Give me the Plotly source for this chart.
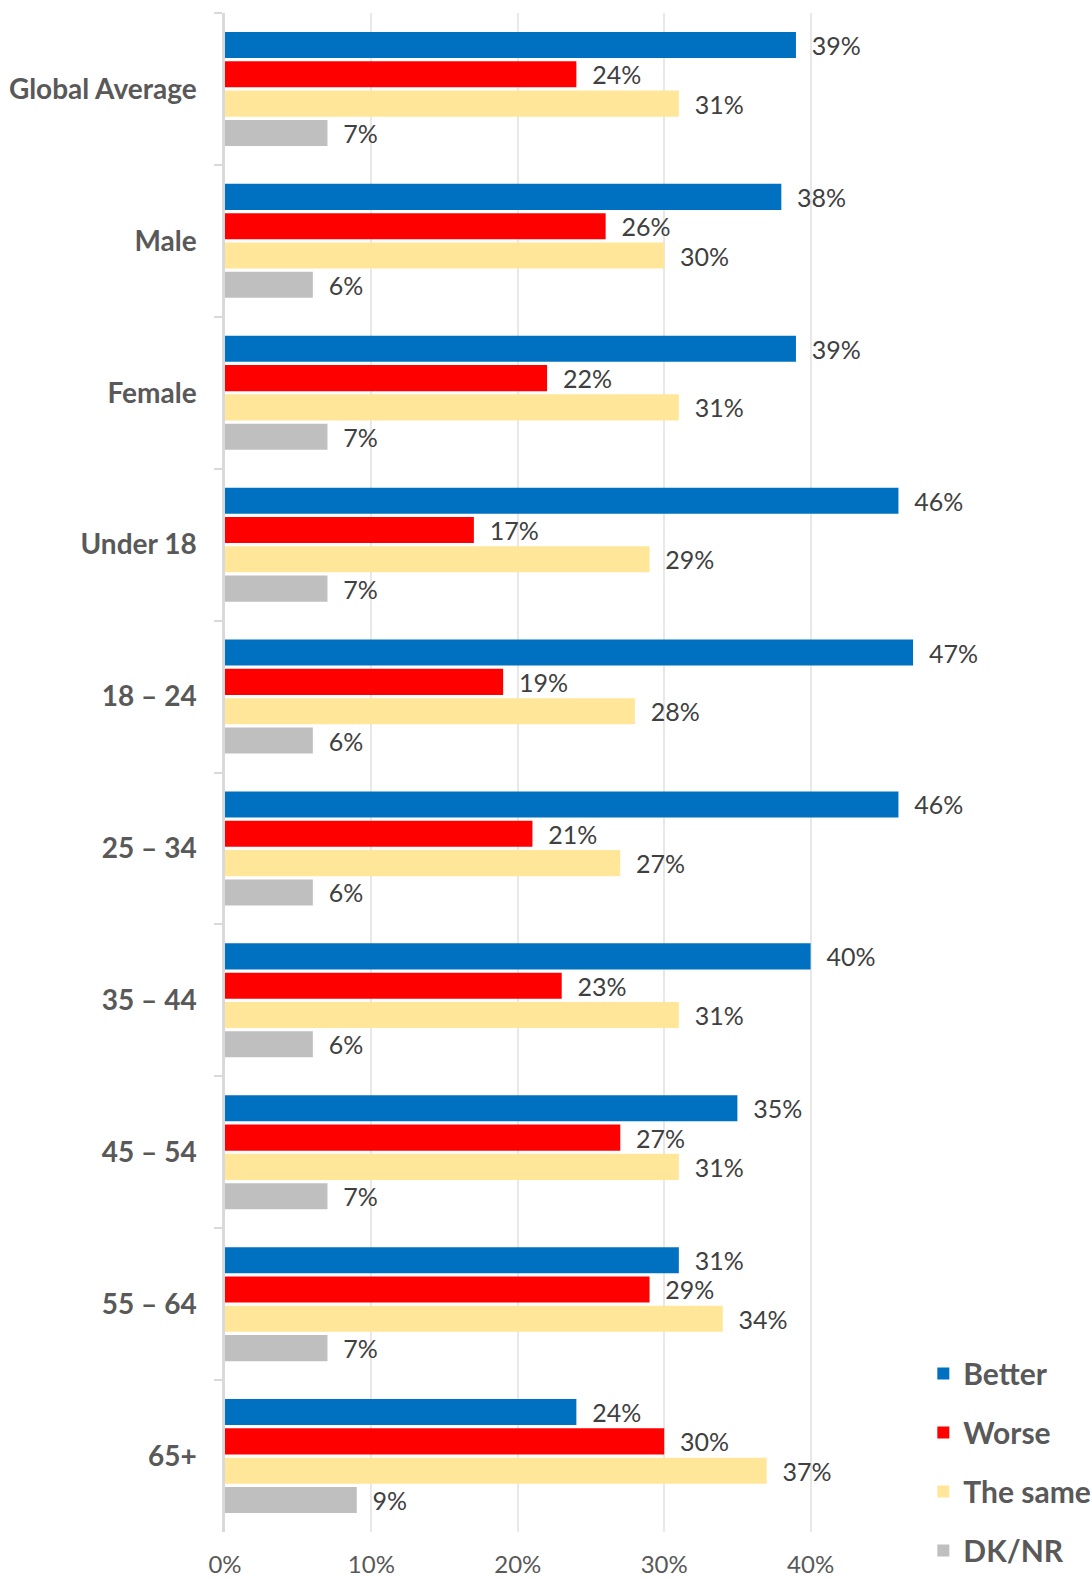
import plotly.graph_objects as go

categories = ["Global Average", "Male", "Female", "Under 18", "18 – 24",
              "25 – 34", "35 – 44", "45 – 54", "55 – 64", "65+"]
better = [39, 38, 39, 46, 47, 46, 40, 35, 31, 24]
worse = [24, 26, 22, 17, 19, 21, 23, 27, 29, 30]
same = [31, 30, 31, 29, 28, 27, 31, 31, 34, 37]
dknr = [7, 6, 7, 7, 6, 6, 6, 7, 7, 9]
series_names = ["Better", "Worse", "The same", "DK/NR"]
colors = ["#0070C0", "#FF0000", "#FFE699", "#BFBFBF"]
tick_vals = [0, 10, 20, 30, 40, 50]
tick_text = ["0%", "10%", "20%", "30%", "40%", ""]

FONT = "Lato"
fig = go.Figure()
for name, vals, col in zip(series_names, [better, worse, same, dknr], colors):
    fig.add_trace(go.Bar(
        y=categories, x=vals, name=name, orientation="h",
        marker=dict(color=col, line=dict(width=0)),
        text=[f"\u00a0\u00a0{v}%" for v in vals],
        textposition="outside", constraintext="none", cliponaxis=False,
        textfont=dict(family=FONT, size=25, color="#404040"),
        legendgroup=name, hoverinfo="skip",
    ))

fig.update_layout(
    width=1091, height=1580,
    margin=dict(l=225, r=134, t=13, b=48, autoexpand=False),
    paper_bgcolor="white", plot_bgcolor="white",
    barmode="group", bargap=0.228, bargroupgap=0.11,
    showlegend=True,
    legend=dict(x=0.954, xanchor="left", y=0.1215, yanchor="top",
                font=dict(family=FONT, size=30, color="#595959", weight="bold"),
                bgcolor="white", tracegroupgap=17, traceorder="grouped"),
    xaxis=dict(range=[0, 50], tickvals=tick_vals, ticktext=tick_text,
               showgrid=True, gridcolor="#E8E8E8", gridwidth=1.5,
               zeroline=False, showline=False, ticks="",
               tickfont=dict(family=FONT, size=24, color="#595959"),
               ticklabelstandoff=16, automargin=False, fixedrange=True),
    yaxis=dict(autorange="reversed", showgrid=False, zeroline=False,
               showline=True, linecolor="#D9D9D9", linewidth=2.5,
               ticks="outside", tickson="boundaries", ticklen=8,
               tickcolor="#D9D9D9", tickwidth=2,
               tickfont=dict(family=FONT, size=28, color="#595959", weight="bold"),
               ticklabelstandoff=20, automargin=False, fixedrange=True),
)

fig.write_html("out.html", config={"displayModeBar": False},
               post_script="document.body.style.margin='0';")
